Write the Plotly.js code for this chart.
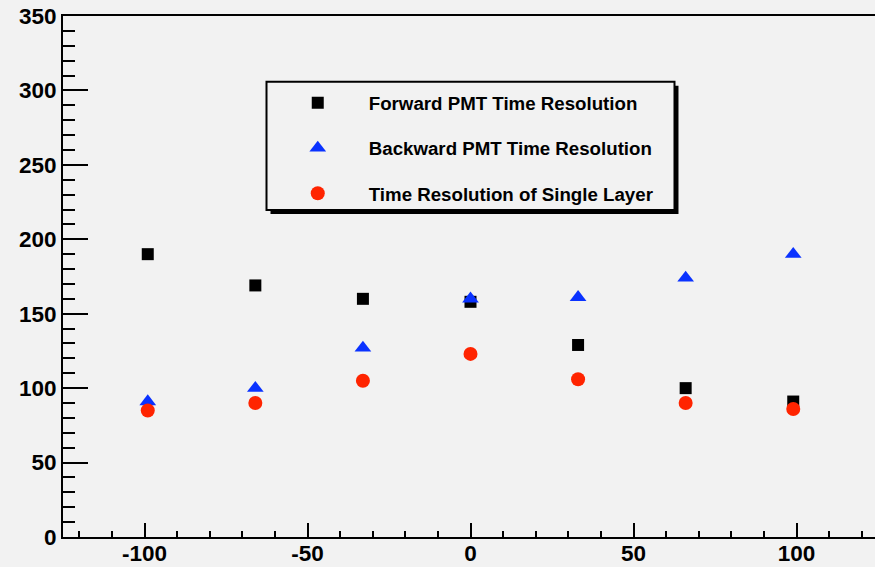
<!DOCTYPE html>
<html><head><meta charset="utf-8">
<script src="https://cdn.plot.ly/plotly-3.0.1.min.js"></script>
<style>
html,body{margin:0;padding:0;background:#f2f2f2;overflow:hidden;width:875px;height:567px}
#chart{width:879px;height:567px}
</style>
</head><body><div id="chart"></div>
<script>
// Data
const positions = [-99, -66, -33, 0, 33, 66, 99];
const forwardRes = [190, 169, 160, 158, 129, 100, 91];
const backwardRes = [91, 100, 127, 160, 161, 174, 190];
const singleLayerRes = [85, 90, 105, 123, 106, 90, 86];
const seriesNames = ['Forward PMT Time Resolution', 'Backward PMT Time Resolution', 'Time Resolution of Single Layer'];
const xTickVals = [-100, -50, 0, 50, 100];
const yTickVals = [0, 50, 100, 150, 200, 250, 300, 350];

const FONT = 'Liberation Sans, Arial, Helvetica, sans-serif';

const traces = [
  {x: positions, y: forwardRes, name: seriesNames[0], legendgroup: 'a', mode: 'markers', type: 'scatter',
   marker: {symbol: 'square', size: 12, color: '#000000'}},
  {x: positions, y: backwardRes, name: seriesNames[1], legendgroup: 'b', mode: 'markers', type: 'scatter',
   marker: {symbol: 'triangle-up', size: 14.5, color: '#0a32ff'}},
  {x: positions, y: singleLayerRes, name: seriesNames[2], legendgroup: 'c', mode: 'markers', type: 'scatter',
   marker: {symbol: 'circle', size: 14, color: '#ff2400'}}
];

const axisCommon = {
  showline: true, linewidth: 2, linecolor: '#000', mirror: true,
  showgrid: false, zeroline: false,
  ticks: 'inside', tickcolor: '#000', tickwidth: 2,
  tickfont: {family: FONT, size: 22.5, weight: 700, color: '#000'},
  fixedrange: true
};

const layout = {
  width: 879, height: 567,
  margin: {l: 63, r: 1, t: 16, b: 30},
  paper_bgcolor: '#f2f2f2', plot_bgcolor: '#f2f2f2',
  showlegend: true,
  xaxis: Object.assign({}, axisCommon, {
    range: [-125, 125], tickmode: 'array', tickvals: xTickVals, ticktext: xTickVals.map(String),
    ticklen: 14, ticklabelstandoff: -5,
    minor: {dtick: 10, tick0: 0, ticklen: 6, tickwidth: 2, tickcolor: '#000', ticks: 'inside', showgrid: false}
  }),
  yaxis: Object.assign({}, axisCommon, {
    range: [0, 350], tickmode: 'array', tickvals: yTickVals, ticktext: yTickVals.map(String),
    ticklen: 25,
    minor: {dtick: 10, tick0: 0, ticklen: 12, tickwidth: 2, tickcolor: '#000', ticks: 'inside', showgrid: false}
  }),
  legend: {
    x: 0.25, xanchor: 'left', y: 0.8695, yanchor: 'top',
    bgcolor: 'rgba(0,0,0,0)', borderwidth: 0,
    font: {family: FONT, size: 18.7, weight: 700, color: '#000'},
    itemwidth: 92, tracegroupgap: 18, traceorder: 'grouped'
  },
  shapes: [
    {type: 'rect', xref: 'paper', yref: 'paper', x0: 0.2546, x1: 0.7552, y0: 0.620, y1: 0.8662,
     fillcolor: '#000', line: {width: 0}, layer: 'below'},
    {type: 'rect', xref: 'paper', yref: 'paper', x0: 0.2497, x1: 0.7503, y0: 0.6276, y1: 0.8739,
     fillcolor: '#f2f2f2', line: {color: '#000', width: 2}, layer: 'below'}
  ]
};

Plotly.newPlot('chart', traces, layout, {staticPlot: true, displayModeBar: false});
</script>
</body></html>
